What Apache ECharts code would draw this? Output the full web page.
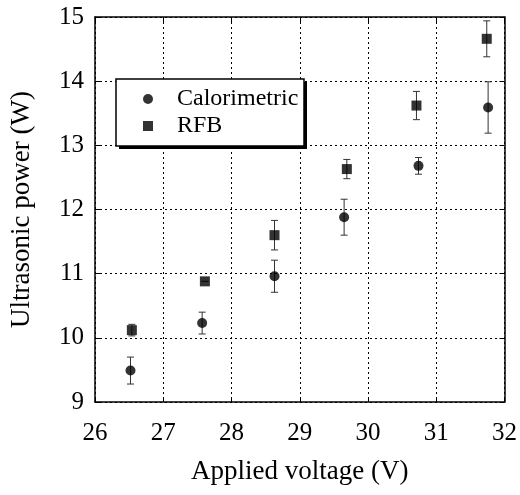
<!DOCTYPE html>
<html><head><meta charset="utf-8">
<script src="https://cdn.jsdelivr.net/npm/echarts@6/dist/echarts.min.js"></script>
<style>html,body{margin:0;padding:0;background:#fff}#c{width:520px;height:495px}</style>
</head><body><div id="c"></div>
<script>
// Data
const calVoltage = [26.52, 27.57, 28.63, 29.65, 30.74, 31.76];
const calPower   = [9.49, 10.23, 10.96, 11.88, 12.68, 13.59];
const calErr     = [0.21, 0.17, 0.25, 0.28, 0.13, 0.40];
const rfbVoltage = [26.54, 27.61, 28.63, 29.69, 30.71, 31.74];
const rfbPower   = [10.12, 10.88, 11.60, 12.63, 13.62, 14.66];
const rfbErr     = [0.09, 0.00, 0.23, 0.15, 0.22, 0.28];
const xTicks = [26, 27, 28, 29, 30, 31, 32];
const yTicks = [9, 10, 11, 12, 13, 14, 15];

const FONT = "'Liberation Serif', 'Times New Roman', serif";
const chart = echarts.init(document.getElementById('c'), null, {renderer: 'canvas'});

function errData(xs, ys, es) {
  return xs.map((x, i) => [x, ys[i] - es[i], ys[i] + es[i]]);
}
function errRender(params, api) {
  const x = api.value(0);
  const lo = api.coord([x, api.value(1)]);
  const hi = api.coord([x, api.value(2)]);
  const w = 3.5;
  const st = {stroke: '#333', lineWidth: 1};
  return {type: 'group', children: [
    {type: 'line', shape: {x1: lo[0], y1: lo[1], x2: hi[0], y2: hi[1]}, style: st},
    {type: 'line', shape: {x1: lo[0]-w, y1: lo[1], x2: lo[0]+w, y2: lo[1]}, style: st},
    {type: 'line', shape: {x1: hi[0]-w, y1: hi[1], x2: hi[0]+w, y2: hi[1]}, style: st}
  ]};
}

const axisCommon = {
  axisLine: {show: true, lineStyle: {color: '#000', width: 1.5}},
  axisTick: {show: true, inside: true, length: 5, lineStyle: {color: '#000', width: 1}},
  splitLine: {show: false}
};

chart.setOption({
  animation: false,
  backgroundColor: '#fff',
  grid: {left: 95, right: 15, top: 17, bottom: 93},
  graphic: [
    {type: 'rect', z: 3, shape: {x: 119, y: 82, width: 188, height: 67}, style: {fill: '#000'}},
    {type: 'rect', z: 3, shape: {x: 116, y: 79, width: 188, height: 67}, style: {fill: '#fff', stroke: '#000', lineWidth: 1.5}}
  ],
  xAxis: [
    Object.assign({}, axisCommon, {
      type: 'value', min: xTicks[0], max: xTicks[xTicks.length-1], interval: 1,
      position: 'bottom',
      name: 'Applied voltage (V)', nameLocation: 'middle', nameGap: 56,
      nameTextStyle: {fontFamily: FONT, fontSize: 27, color: '#000'},
      axisLabel: {fontFamily: FONT, fontSize: 25, color: '#000', margin: 19},
      splitLine: {show: true, lineStyle: {color: '#000', type: [2, 3], width: 1}}
    }),
    Object.assign({}, axisCommon, {
      type: 'value', min: xTicks[0], max: xTicks[xTicks.length-1], interval: 1,
      position: 'top', axisLabel: {show: false}
    })
  ],
  yAxis: [
    Object.assign({}, axisCommon, {
      type: 'value', min: yTicks[0], max: yTicks[yTicks.length-1], interval: 1,
      position: 'left',
      name: 'Ultrasonic power (W)', nameLocation: 'middle', nameGap: 60,
      nameTextStyle: {fontFamily: FONT, fontSize: 27, color: '#000'},
      axisLabel: {fontFamily: FONT, fontSize: 25, color: '#000', margin: 11},
      splitLine: {show: true, lineStyle: {color: '#000', type: [2, 3], width: 1}}
    }),
    Object.assign({}, axisCommon, {
      type: 'value', min: yTicks[0], max: yTicks[yTicks.length-1], interval: 1,
      position: 'right', axisLabel: {show: false}
    })
  ],
  legend: {
    orient: 'vertical', left: 116, top: 79, z: 5,
    padding: [8, 10, 8, 27], itemGap: 3,
    itemWidth: 10, itemHeight: 10,
    textStyle: {fontFamily: FONT, fontSize: 24, color: '#000', padding: [0, 0, 0, 19]},
    data: [{name: 'Calorimetric', icon: 'circle'}, {name: 'RFB', icon: 'rect'}]
  },
  series: [
    {type: 'custom', name: 'calErr', renderItem: errRender, data: errData(calVoltage, calPower, calErr), encode: {x: 0, y: [1, 2]}, z: 1},
    {type: 'custom', name: 'rfbErr', renderItem: errRender, data: errData(rfbVoltage, rfbPower, rfbErr), encode: {x: 0, y: [1, 2]}, z: 1},
    {type: 'scatter', name: 'Calorimetric', symbol: 'circle', symbolSize: 10,
     itemStyle: {color: '#000'}, data: calVoltage.map((x, i) => [x, calPower[i]]), z: 3},
    {type: 'scatter', name: 'RFB', symbol: 'rect', symbolSize: 10,
     itemStyle: {color: '#000'}, data: rfbVoltage.map((x, i) => [x, rfbPower[i]]), z: 3}
  ]
});
</script></body></html>
